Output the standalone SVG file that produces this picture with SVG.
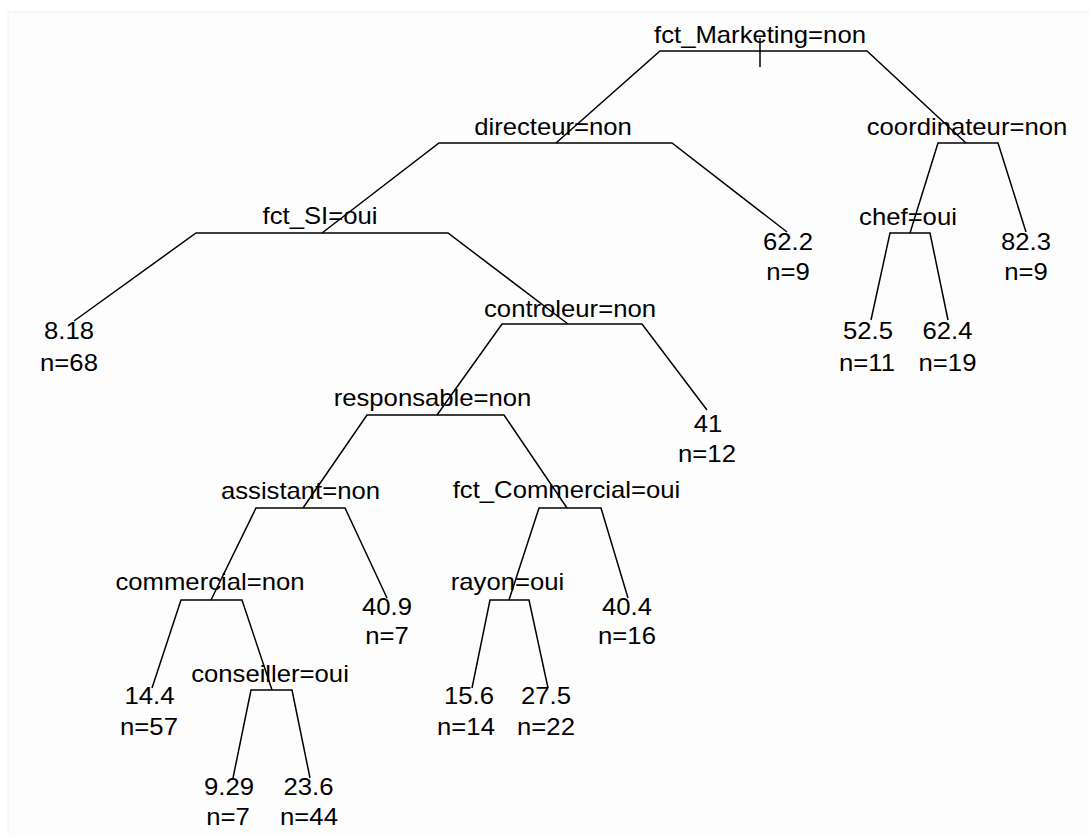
<svg xmlns="http://www.w3.org/2000/svg" width="1089" height="835" viewBox="0 0 1089 835">
<style>
.t{font-family:"Liberation Sans",Arial,sans-serif;font-size:24px;fill:#000;text-anchor:middle}
.c{fill:none;stroke:#000;stroke-width:1.5;stroke-linejoin:miter}
</style>
<rect x="0" y="0" width="1089" height="835" fill="#ffffff"/>
<rect x="8" y="12" width="1090" height="830" fill="#fdfdfd" stroke="#f0f0f0" stroke-width="1"/>
<g id="connectors">
<line class="c" x1="760" y1="38" x2="760" y2="67"/>
<polyline class="c" points="556,143 660,51 867,51 966,143"/>
<polyline class="c" points="322,233 439,143 672,143 787,232"/>
<polyline class="c" points="910,233 938,143 998,143 1026,232"/>
<polyline class="c" points="74,321 196,233 448,233 568,324"/>
<polyline class="c" points="871,320 890,233 930,233 948,320"/>
<polyline class="c" points="437,415 502,324 642,324 707,410"/>
<polyline class="c" points="303,508 367,415 504,415 567,508"/>
<polyline class="c" points="211,600 256,508 345,508 387,598"/>
<polyline class="c" points="509,600 539,508 601,508 628,598"/>
<polyline class="c" points="152,688 181,600 242,600 272,690"/>
<polyline class="c" points="472,688 490,600 529,600 548,688"/>
<polyline class="c" points="233,778 251,690 292,690 310,778"/>
</g>
<g id="n_root"><text class="t" transform="translate(760 42.5) scale(1.07 1)">fct_Marketing=non</text></g>
<g id="n_directeur"><text class="t" transform="translate(553 134.5) scale(1.07 1)">directeur=non</text></g>
<g id="n_coordinateur"><text class="t" transform="translate(967 134.5) scale(1.07 1)">coordinateur=non</text></g>
<g id="n_fctSI"><text class="t" transform="translate(320 224) scale(1.07 1)">fct_SI=oui</text></g>
<g id="n_chef"><text class="t" transform="translate(908 224.5) scale(1.07 1)">chef=oui</text></g>
<g id="n_controleur"><text class="t" transform="translate(570 317) scale(1.07 1)">controleur=non</text></g>
<g id="n_responsable"><text class="t" transform="translate(432.5 406) scale(1.07 1)">responsable=non</text></g>
<g id="n_assistant"><text class="t" transform="translate(300.5 499) scale(1.07 1)">assistant=non</text></g>
<g id="n_fctCommercial"><text class="t" transform="translate(566.5 498) scale(1.07 1)">fct_Commercial=oui</text></g>
<g id="n_commercial"><text class="t" transform="translate(210 590) scale(1.07 1)">commercial=non</text></g>
<g id="n_rayon"><text class="t" transform="translate(507.5 590) scale(1.07 1)">rayon=oui</text></g>
<g id="n_conseiller"><text class="t" transform="translate(270 682) scale(1.07 1)">conseiller=oui</text></g>
<g id="leaf_818"><text class="t" transform="translate(69 339) scale(1.07 1)">8.18</text><text class="t" transform="translate(69 370.5) scale(1.07 1)">n=68</text></g>
<g id="leaf_622"><text class="t" transform="translate(788 249.5) scale(1.07 1)">62.2</text><text class="t" transform="translate(788 279.5) scale(1.07 1)">n=9</text></g>
<g id="leaf_823"><text class="t" transform="translate(1026 250) scale(1.07 1)">82.3</text><text class="t" transform="translate(1026 279.5) scale(1.07 1)">n=9</text></g>
<g id="leaf_525"><text class="t" transform="translate(868 338.5) scale(1.07 1)">52.5</text><text class="t" transform="translate(867 370.5) scale(1.07 1)">n=11</text></g>
<g id="leaf_624"><text class="t" transform="translate(947.5 338.5) scale(1.07 1)">62.4</text><text class="t" transform="translate(947.5 370.5) scale(1.07 1)">n=19</text></g>
<g id="leaf_41"><text class="t" transform="translate(708 431.5) scale(1.07 1)">41</text><text class="t" transform="translate(707 461.5) scale(1.07 1)">n=12</text></g>
<g id="leaf_409"><text class="t" transform="translate(387 615) scale(1.07 1)">40.9</text><text class="t" transform="translate(387 644) scale(1.07 1)">n=7</text></g>
<g id="leaf_404"><text class="t" transform="translate(627 615) scale(1.07 1)">40.4</text><text class="t" transform="translate(627 644) scale(1.07 1)">n=16</text></g>
<g id="leaf_144"><text class="t" transform="translate(149.5 704) scale(1.07 1)">14.4</text><text class="t" transform="translate(149 735) scale(1.07 1)">n=57</text></g>
<g id="leaf_156"><text class="t" transform="translate(469 704) scale(1.07 1)">15.6</text><text class="t" transform="translate(466 735) scale(1.07 1)">n=14</text></g>
<g id="leaf_275"><text class="t" transform="translate(546 704) scale(1.07 1)">27.5</text><text class="t" transform="translate(546 735) scale(1.07 1)">n=22</text></g>
<g id="leaf_929"><text class="t" transform="translate(229 795) scale(1.07 1)">9.29</text><text class="t" transform="translate(228 825) scale(1.07 1)">n=7</text></g>
<g id="leaf_236"><text class="t" transform="translate(308.5 795) scale(1.07 1)">23.6</text><text class="t" transform="translate(309 825) scale(1.07 1)">n=44</text></g>
</svg>
